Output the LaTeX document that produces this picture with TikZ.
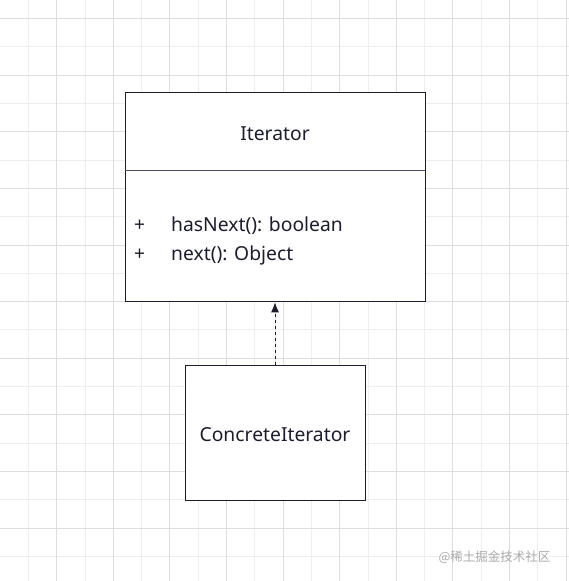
\documentclass[tikz,border=0pt]{standalone}
\usepackage{fontspec}
\setmainfont{Noto Sans}
\newfontfamily\cjkfont{Noto Sans CJK SC}
\usetikzlibrary{positioning,arrows.meta}
\definecolor{ink}{HTML}{1C1C30}
\definecolor{divider}{HTML}{4A4A66}
\definecolor{gridlo}{HTML}{EEEEEE}
\definecolor{gridhi}{HTML}{DEDEDE}
\definecolor{wmark}{HTML}{ABABAB}

\begin{document}
\begin{tikzpicture}[
  x=1pt, y=-1pt,
  font=\fontsize{19.3}{29}\selectfont,
  >={Latex[length=10pt,width=8pt]},
  cls/.style  = {draw=ink, fill=white, line width=0.9pt, minimum width=300pt,
                 inner sep=0pt, text=ink, text height=18pt, text depth=0pt},
  real/.style = {->, draw=ink, fill=ink, line width=0.9pt, dash pattern=on 3pt off 3pt},
]

% ---- canvas and grid --------------------------------------------------
\path[use as bounding box, fill=white] (0,0) rectangle (569,581);
\foreach \k in {1,3,...,19} {
  \draw[gridlo, line width=0.8pt] (28.3*\k,0) -- (28.3*\k,581);
  \draw[gridlo, line width=0.8pt] (0,18.5+28.3*\k) -- (569,18.5+28.3*\k);
}
\foreach \k in {2,4,...,20}
  \draw[gridhi, line width=0.8pt] (28.3*\k,0) -- (28.3*\k,581);
\foreach \k in {0,2,...,18}
  \draw[gridhi, line width=0.8pt] (0,18.5+28.3*\k) -- (569,18.5+28.3*\k);

% ---- interface --------------------------------------------------------
\node[cls, minimum height=78pt] at (275,131) (head) {Iterator};
\node[cls, minimum height=131pt, below=0pt of head] (body) {};
\draw[divider, line width=1.2pt] (head.south west) -- (head.south east);
\node[anchor=west, align=left, text=ink, inner sep=0pt] at (134,240.5) (ops)
  {\makebox[37pt][l]{+}hasNext(): boolean\\\makebox[37pt][l]{+}next(): Object};

% ---- implementation ---------------------------------------------------
\node[cls, minimum width=180pt, minimum height=135pt] at (275,432.5) (impl)
  {ConcreteIterator};

% ---- realization ------------------------------------------------------
\draw[real] (impl.north) -- (body.south);

\node[text=wmark, font=\cjkfont\fontsize{12.5}{14}\selectfont, anchor=east]
  at (554,557) (note) {@稀土掘金技术社区};

\end{tikzpicture}
\end{document}
